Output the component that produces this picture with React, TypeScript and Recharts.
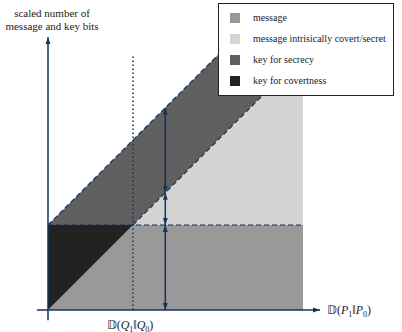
import { ComposedChart, Area, Line, XAxis, YAxis, ReferenceDot, Legend } from 'recharts';

// breakpoints of the regions (x in units of D(Q1||Q0))
const msgX = [0, 1, 3];
const msgLow = [0, 0, 0];
const msgHigh = [0, 1, 1];

const covX = [0, 1];
const covLow = [0, 1];
const covHigh = [1, 1];

const lightX = [1, 3];
const lightLow = [1, 1];
const lightHigh = [1, 3];

const keyX = [0, 1, 3];
const keyLow = [1, 1, 3];
const keyHigh = [1, 2, 4];

// boundary lines
const hLineX = [0, 3];
const hLineY = [1, 1];
const lowDiagX = [1, 3];
const lowDiagY = [1, 3];
const upDiagX = [0, 3];
const upDiagY = [1, 4];
const dotX = [1, 1];
const dotY = [0, 3];

// axes
const xAxisX = [-0.13, 3.2];
const xAxisY = [0, 0];
const yAxisX = [0, 0];
const yAxisY = [-0.12, 3.21];

// double arrows at x = 1.38
const arrowX = 1.38;
const arrowSpans = [
  [2.38, 1.38],
  [1.38, 1],
  [1, 0],
];

const legendNames = ['message', 'message intrisically covert/secret', 'key for secrecy', 'key for covertness'];
const legendColors = ['#999999', '#d4d4d4', '#5f5f5f', '#222222'];

const NAVY = '#12355b';
const SERIF = "'Liberation Serif', 'Times New Roman', Times, serif";

const range = (xs: number[], lo: number[], hi: number[]) => xs.map((x, i) => ({ x, r: [lo[i], hi[i]] }));
const pts = (xs: number[], ys: number[]) => xs.map((x, i) => ({ x, y: ys[i] }));

function LegendBox() {
  return (
    <div style={{ background: '#fff', border: '1px solid #222', width: 176, height: 93, boxSizing: 'border-box', fontFamily: SERIF, fontSize: 10, color: '#222' }}>
      {legendNames.map((n, i) => (
        <div key={n} style={{ position: 'absolute', left: 12, top: 9 + i * 21, display: 'flex', alignItems: 'center' }}>
          <div style={{ width: 10, height: 10, background: legendColors[i] }} />
          <span style={{ marginLeft: 13 }}>{n}</span>
        </div>
      ))}
    </div>
  );
}

// D(A1||A0) in math style
function Div({ x, y, v, anchor }: { x: number; y: number; v: string; anchor: 'start' | 'middle' }) {
  return (
    <text x={x} y={y} textAnchor={anchor} fontFamily={SERIF} fontSize={12} fill="#222">
      𝔻(<tspan fontStyle="italic">{v}</tspan>
      <tspan fontSize={8} dy={2.5}>1</tspan>
      <tspan dy={-2.5}>‖</tspan>
      <tspan fontStyle="italic">{v}</tspan>
      <tspan fontSize={8} dy={2.5}>0</tspan>
      <tspan dy={-2.5}>)</tspan>
    </text>
  );
}

export default function App() {
  return (
    <div style={{ position: 'absolute', left: 0, top: 0, background: '#fff', fontFamily: SERIF }}>
      <ComposedChart width={402} height={332} margin={{ left: 5.5, right: 14, top: 4, bottom: 0.75 }}>
        <defs>
          <marker id="ah" viewBox="0 0 10 10" refX="10" refY="5" markerWidth="7" markerHeight="7" markerUnits="userSpaceOnUse" orient="auto-start-reverse">
            <path d="M0,1.5 L10,5 L0,8.5 z" fill={NAVY} />
          </marker>
        </defs>
        <XAxis type="number" dataKey="x" domain={[-0.5, 4]} allowDataOverflow hide />
        <YAxis type="number" domain={[-0.25, 3.6]} allowDataOverflow hide />

        <Area data={range(keyX, keyLow, keyHigh)} dataKey="r" type="linear" fill="#5f5f5f" fillOpacity={1} stroke="none" isAnimationActive={false} />
        <Area data={range(lightX, lightLow, lightHigh)} dataKey="r" type="linear" fill="#d4d4d4" fillOpacity={1} stroke="none" isAnimationActive={false} />
        <Area data={range(msgX, msgLow, msgHigh)} dataKey="r" type="linear" fill="#999999" fillOpacity={1} stroke="none" isAnimationActive={false} />
        <Area data={range(covX, covLow, covHigh)} dataKey="r" type="linear" fill="#222222" fillOpacity={1} stroke="none" isAnimationActive={false} />

        <Line data={pts(hLineX, hLineY)} dataKey="y" stroke={NAVY} strokeWidth={1.2} strokeDasharray="5 3" dot={false} isAnimationActive={false} />
        <Line data={pts(lowDiagX, lowDiagY)} dataKey="y" stroke={NAVY} strokeWidth={1.2} strokeDasharray="5 3" dot={false} isAnimationActive={false} />
        <Line data={pts(upDiagX, upDiagY)} dataKey="y" stroke={NAVY} strokeWidth={1.2} strokeDasharray="5 3" dot={false} isAnimationActive={false} />
        <Line data={pts(dotX, dotY)} dataKey="y" stroke={NAVY} strokeWidth={1.5} strokeDasharray="1.5 2.5" dot={false} isAnimationActive={false} />

        <Line data={pts(xAxisX, xAxisY)} dataKey="y" stroke={NAVY} strokeWidth={1.5} markerEnd="url(#ah)" dot={false} isAnimationActive={false} />
        <Line data={pts(yAxisX, yAxisY)} dataKey="y" stroke={NAVY} strokeWidth={1.5} markerEnd="url(#ah)" dot={false} isAnimationActive={false} />

        {arrowSpans.map((s, i) => (
          <Line key={i} data={pts([arrowX, arrowX], s)} dataKey="y" stroke={NAVY} strokeWidth={1.5} markerStart="url(#ah)" markerEnd="url(#ah)" dot={false} isAnimationActive={false} />
        ))}

        <ReferenceDot x={1} y={0} shape={(p: any) => <Div x={p.cx - 3} y={p.cy + 19} v="Q" anchor="middle" />} />
        <ReferenceDot x={3.2} y={0} shape={(p: any) => <Div x={p.cx + 7} y={p.cy + 4} v="P" anchor="start" />} />
        <ReferenceDot x={0} y={3.21} shape={(p: any) => (
          <text x={p.cx + 4} y={p.cy - 20} textAnchor="middle" fontFamily={SERIF} fontSize={11} fill="#222">
            <tspan x={p.cx + 4}>scaled number of</tspan>
            <tspan x={p.cx + 4} dy={13}>message and key bits</tspan>
          </text>
        )} />

        <Legend layout="vertical" align="center" verticalAlign="middle" wrapperStyle={{ left: 218, top: 3, width: 176, height: 93, bottom: 'auto', right: 'auto' }} content={() => <LegendBox />} />
      </ComposedChart>
    </div>
  );
}
